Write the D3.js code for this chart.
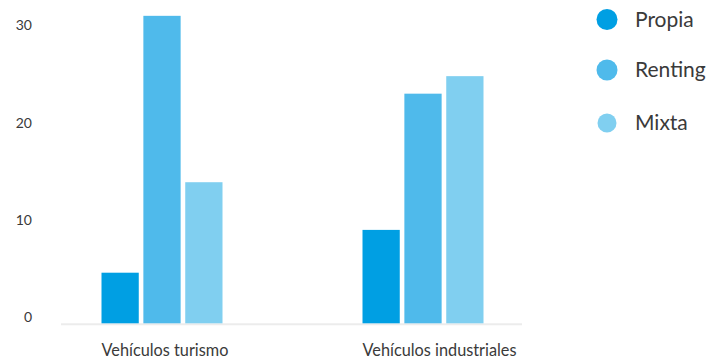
<!DOCTYPE html>
<html>
<head>
<meta charset="utf-8">
<script src="https://cdn.jsdelivr.net/npm/d3@7"></script>
<style>
  body { margin: 0; background: #fff; }
  svg { display: block; font-family: Lato, "Noto Sans", sans-serif; }
</style>
</head>
<body>
<svg id="chart" width="708" height="361"></svg>
<script>
const categories = ['Vehículos turismo', 'Vehículos industriales'];
const seriesNames = ['Propia', 'Renting', 'Mixta'];
const propia = [5.2, 9.6];
const renting = [31.6, 23.6];
const mixta = [14.5, 25.4];
const yTicks = [0, 10, 20, 30];
const colors = ['#009fe3', '#4fbaeb', '#80cff0'];

const seriesValues = [propia, renting, mixta];
const svg = d3.select('#chart');

const x0 = d3.scaleBand().domain(categories).range([31.5, 553.5]);
// bars sit inside each band, 70px from its left edge
const x1 = d3.scaleBand().domain(seriesNames).range([70, 191]).paddingInner(0.11);
const y = d3.scaleLinear().domain([0, 10]).range([323.3, 226]);

// baseline
svg.append('line')
  .attr('x1', 61).attr('x2', 522)
  .attr('y1', y(0) + 1).attr('y2', y(0) + 1)
  .attr('stroke', '#ececec').attr('stroke-width', 2);

// y tick labels
svg.append('g').selectAll('text')
  .data(yTicks)
  .join('text')
  .attr('x', 32)
  .attr('y', d => y(d) - 6)
  .attr('dy', '0.35em')
  .attr('text-anchor', 'end')
  .attr('font-size', 14)
  .attr('fill', '#3a3a3a')
  .text(d => d);

// bars
const groups = svg.append('g').selectAll('g')
  .data(categories)
  .join('g')
  .attr('transform', d => `translate(${x0(d)},0)`);

groups.selectAll('rect')
  .data((d, i) => seriesNames.map((s, j) => ({ s, v: seriesValues[j][i], j })))
  .join('rect')
  .attr('x', d => x1(d.s))
  .attr('width', x1.bandwidth())
  .attr('y', d => y(d.v))
  .attr('height', d => y(0) - y(d.v))
  .attr('fill', d => colors[d.j]);

// category labels, left aligned with first bar
groups.append('text')
  .attr('x', x1(seriesNames[0]))
  .attr('y', 356)
  .attr('font-size', 16.3)
  .attr('fill', '#3a3a3a')
  .text(d => d);

// legend
const legend = svg.append('g').selectAll('g')
  .data(seriesNames)
  .join('g')
  .attr('transform', (d, i) => `translate(607,${[19.5, 70, 123][i]})`);

legend.append('circle')
  .attr('r', (d, i) => i === 2 ? 9.5 : 10.5)
  .attr('fill', (d, i) => colors[i]);

legend.append('text')
  .attr('x', 28)
  .attr('dy', '0.35em')
  .attr('font-size', 21)
  .attr('fill', '#3a3a3a')
  .text(d => d);
</script>
</body>
</html>
